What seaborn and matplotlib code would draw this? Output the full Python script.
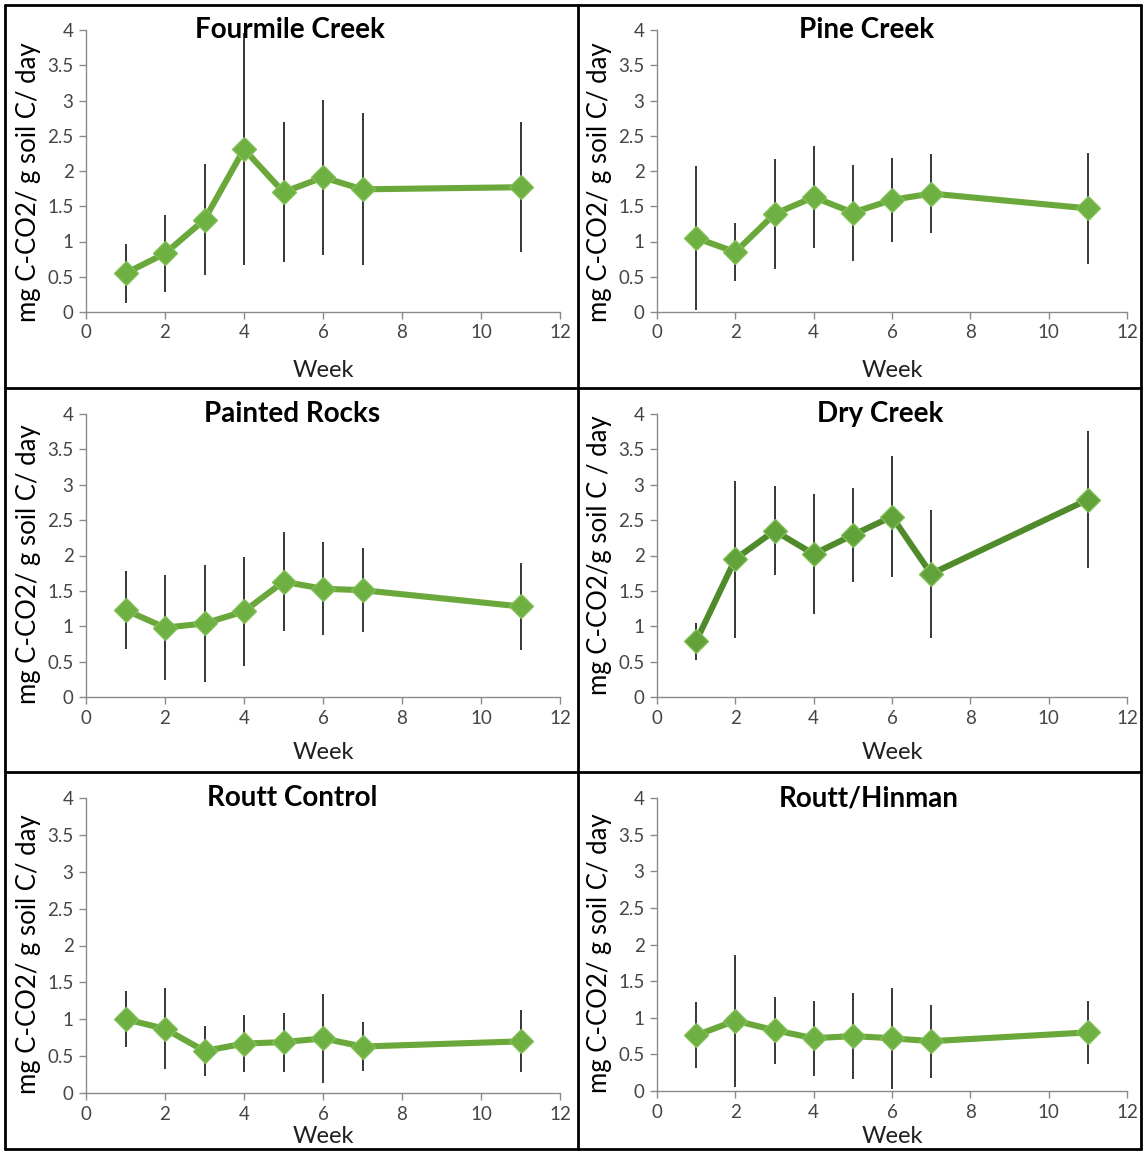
import numpy as np
import pandas as pd
import matplotlib
matplotlib.use("Agg")
import matplotlib.pyplot as plt
from matplotlib.lines import Line2D
import seaborn as sns

# ---------------- data ----------------
weeks = [1, 2, 3, 4, 5, 6, 7, 11]

titles = ["Fourmile Creek", "Pine Creek", "Painted Rocks", "Dry Creek",
          "Routt Control", "Routt/Hinman"]

fourmile_mean = [0.55, 0.83, 1.31, 2.31, 1.70, 1.91, 1.74, 1.77]
fourmile_err = [0.42, 0.55, 0.79, 1.65, 0.99, 1.10, 1.08, 0.92]

pine_mean = [1.05, 0.85, 1.39, 1.63, 1.41, 1.59, 1.68, 1.47]
pine_err = [1.02, 0.41, 0.78, 0.72, 0.68, 0.59, 0.56, 0.79]

painted_mean = [1.23, 0.98, 1.04, 1.21, 1.63, 1.53, 1.51, 1.28]
painted_err = [0.55, 0.74, 0.83, 0.77, 0.70, 0.66, 0.59, 0.62]

dry_mean = [0.79, 1.95, 2.35, 2.02, 2.29, 2.55, 1.74, 2.79]
dry_err = [0.26, 1.11, 0.63, 0.85, 0.67, 0.86, 0.91, 0.97]

routt_mean = [1.00, 0.87, 0.57, 0.67, 0.69, 0.74, 0.63, 0.70]
routt_err = [0.38, 0.55, 0.34, 0.39, 0.40, 0.60, 0.33, 0.42]

hinman_mean = [0.76, 0.96, 0.83, 0.72, 0.75, 0.72, 0.68, 0.80]
hinman_err = [0.45, 0.90, 0.46, 0.51, 0.59, 0.69, 0.50, 0.43]

ylabels = ["mg C-CO2/ g soil C/ day"] * 3 + ["mg C-CO2/g soil C / day"] + \
          ["mg C-CO2/ g soil C/ day"] * 2
x_ticks = [0, 2, 4, 6, 8, 10, 12]
y_ticks = [0, 0.5, 1, 1.5, 2, 2.5, 3, 3.5, 4]
y_ticklabels = ["0", "0.5", "1", "1.5", "2", "2.5", "3", "3.5", "4"]

means = [fourmile_mean, pine_mean, painted_mean, dry_mean, routt_mean, hinman_mean]
errs = [fourmile_err, pine_err, painted_err, dry_err, routt_err, hinman_err]

# ---------------- style ----------------
sns.set_style("white")
plt.rcParams['font.family'] = ['Lato', 'DejaVu Sans']

W, H = 1144, 1151
fig = plt.figure(figsize=(W / 100, H / 100), dpi=100)

# axes positions in pixels: left, right, y0 (value 0), y4 (value 4)
boxes = [
    (86, 560, 312, 30),
    (657, 1127, 312, 30),
    (86, 560, 697, 414),
    (657, 1127, 697, 414),
    (86, 560, 1093, 798),
    (657, 1127, 1091, 798),
]
title_x = [0.43, 0.445, 0.435, 0.475, 0.435, 0.45]
week_y = [-0.17, -0.17, -0.158, -0.158, -0.113, -0.12]
ylab_y = [0.46, 0.46, 0.47, 0.50, 0.47, 0.47]
line_colors = ['#6aa83c', '#6aa83c', '#6aa83c', '#4f8a2b', '#6aa83c', '#6aa83c']
marker_colors = ['#6fb043', '#6fb043', '#6fb043', '#62a23a', '#6fb043', '#6fb043']

axis_gray = '#8a8a8a'
tick_text = '#454545'

for i in range(6):
    l, r, y0, y4 = boxes[i]
    ax = fig.add_axes([l / W, 1 - y0 / H, (r - l) / W, (y0 - y4) / H])
    df = pd.DataFrame({"Week": weeks, "Value": means[i], "Err": errs[i]})
    ax.errorbar(df["Week"], df["Value"], yerr=df["Err"], fmt='none',
                ecolor='black', elinewidth=1.1, capsize=0, zorder=1)
    sns.lineplot(data=df, x="Week", y="Value", ax=ax, color=line_colors[i],
                 linewidth=4.4, marker='D', markersize=12.5,
                 markerfacecolor=marker_colors[i], markeredgecolor='#7fbf55',
                 markeredgewidth=1.0, zorder=3)
    ax.set_xlim(0, 12)
    ax.set_ylim(0, 4)
    ax.set_xticks(x_ticks)
    ax.set_xticklabels([str(t) for t in x_ticks])
    ax.set_yticks(y_ticks)
    ax.set_yticklabels(y_ticklabels)
    for s in ['top', 'right']:
        ax.spines[s].set_visible(False)
    for s in ['left', 'bottom']:
        ax.spines[s].set_color(axis_gray)
        ax.spines[s].set_linewidth(1.0)
    ax.tick_params(axis='both', which='major', direction='out', length=5,
                   width=1.0, color=axis_gray, labelsize=13.5, labelcolor=tick_text,
                   left=True, bottom=True, pad=4)
    ax.set_facecolor('none')
    ax.set_ylabel(ylabels[i], fontsize=18.5, color='black')
    ax.yaxis.set_label_coords(-0.095, ylab_y[i])
    ax.set_xlabel("Week", fontsize=17, color='#202020')
    ax.xaxis.set_label_coords(0.5, week_y[i])
    ax.text(title_x[i], 1.0, titles[i], transform=ax.transAxes, ha='center',
            va='center', fontsize=20, fontweight='bold', color='black')

# panel borders
lw = 2.0
def fx(p):
    return p / W
def fy(p):
    return 1 - p / H
border = [((5, 5), (1141, 5)), ((5, 1149), (1141, 1149)),
          ((5, 5), (5, 1149)), ((1141, 5), (1141, 1149)),
          ((578, 5), (578, 1149)), ((5, 388), (1141, 388)),
          ((5, 772), (1141, 772))]
for (a, b) in border:
    fig.add_artist(Line2D([fx(a[0]), fx(b[0])], [fy(a[1]), fy(b[1])],
                          color='black', linewidth=lw, transform=fig.transFigure))

fig.savefig("out.png", dpi=100, facecolor='white')
